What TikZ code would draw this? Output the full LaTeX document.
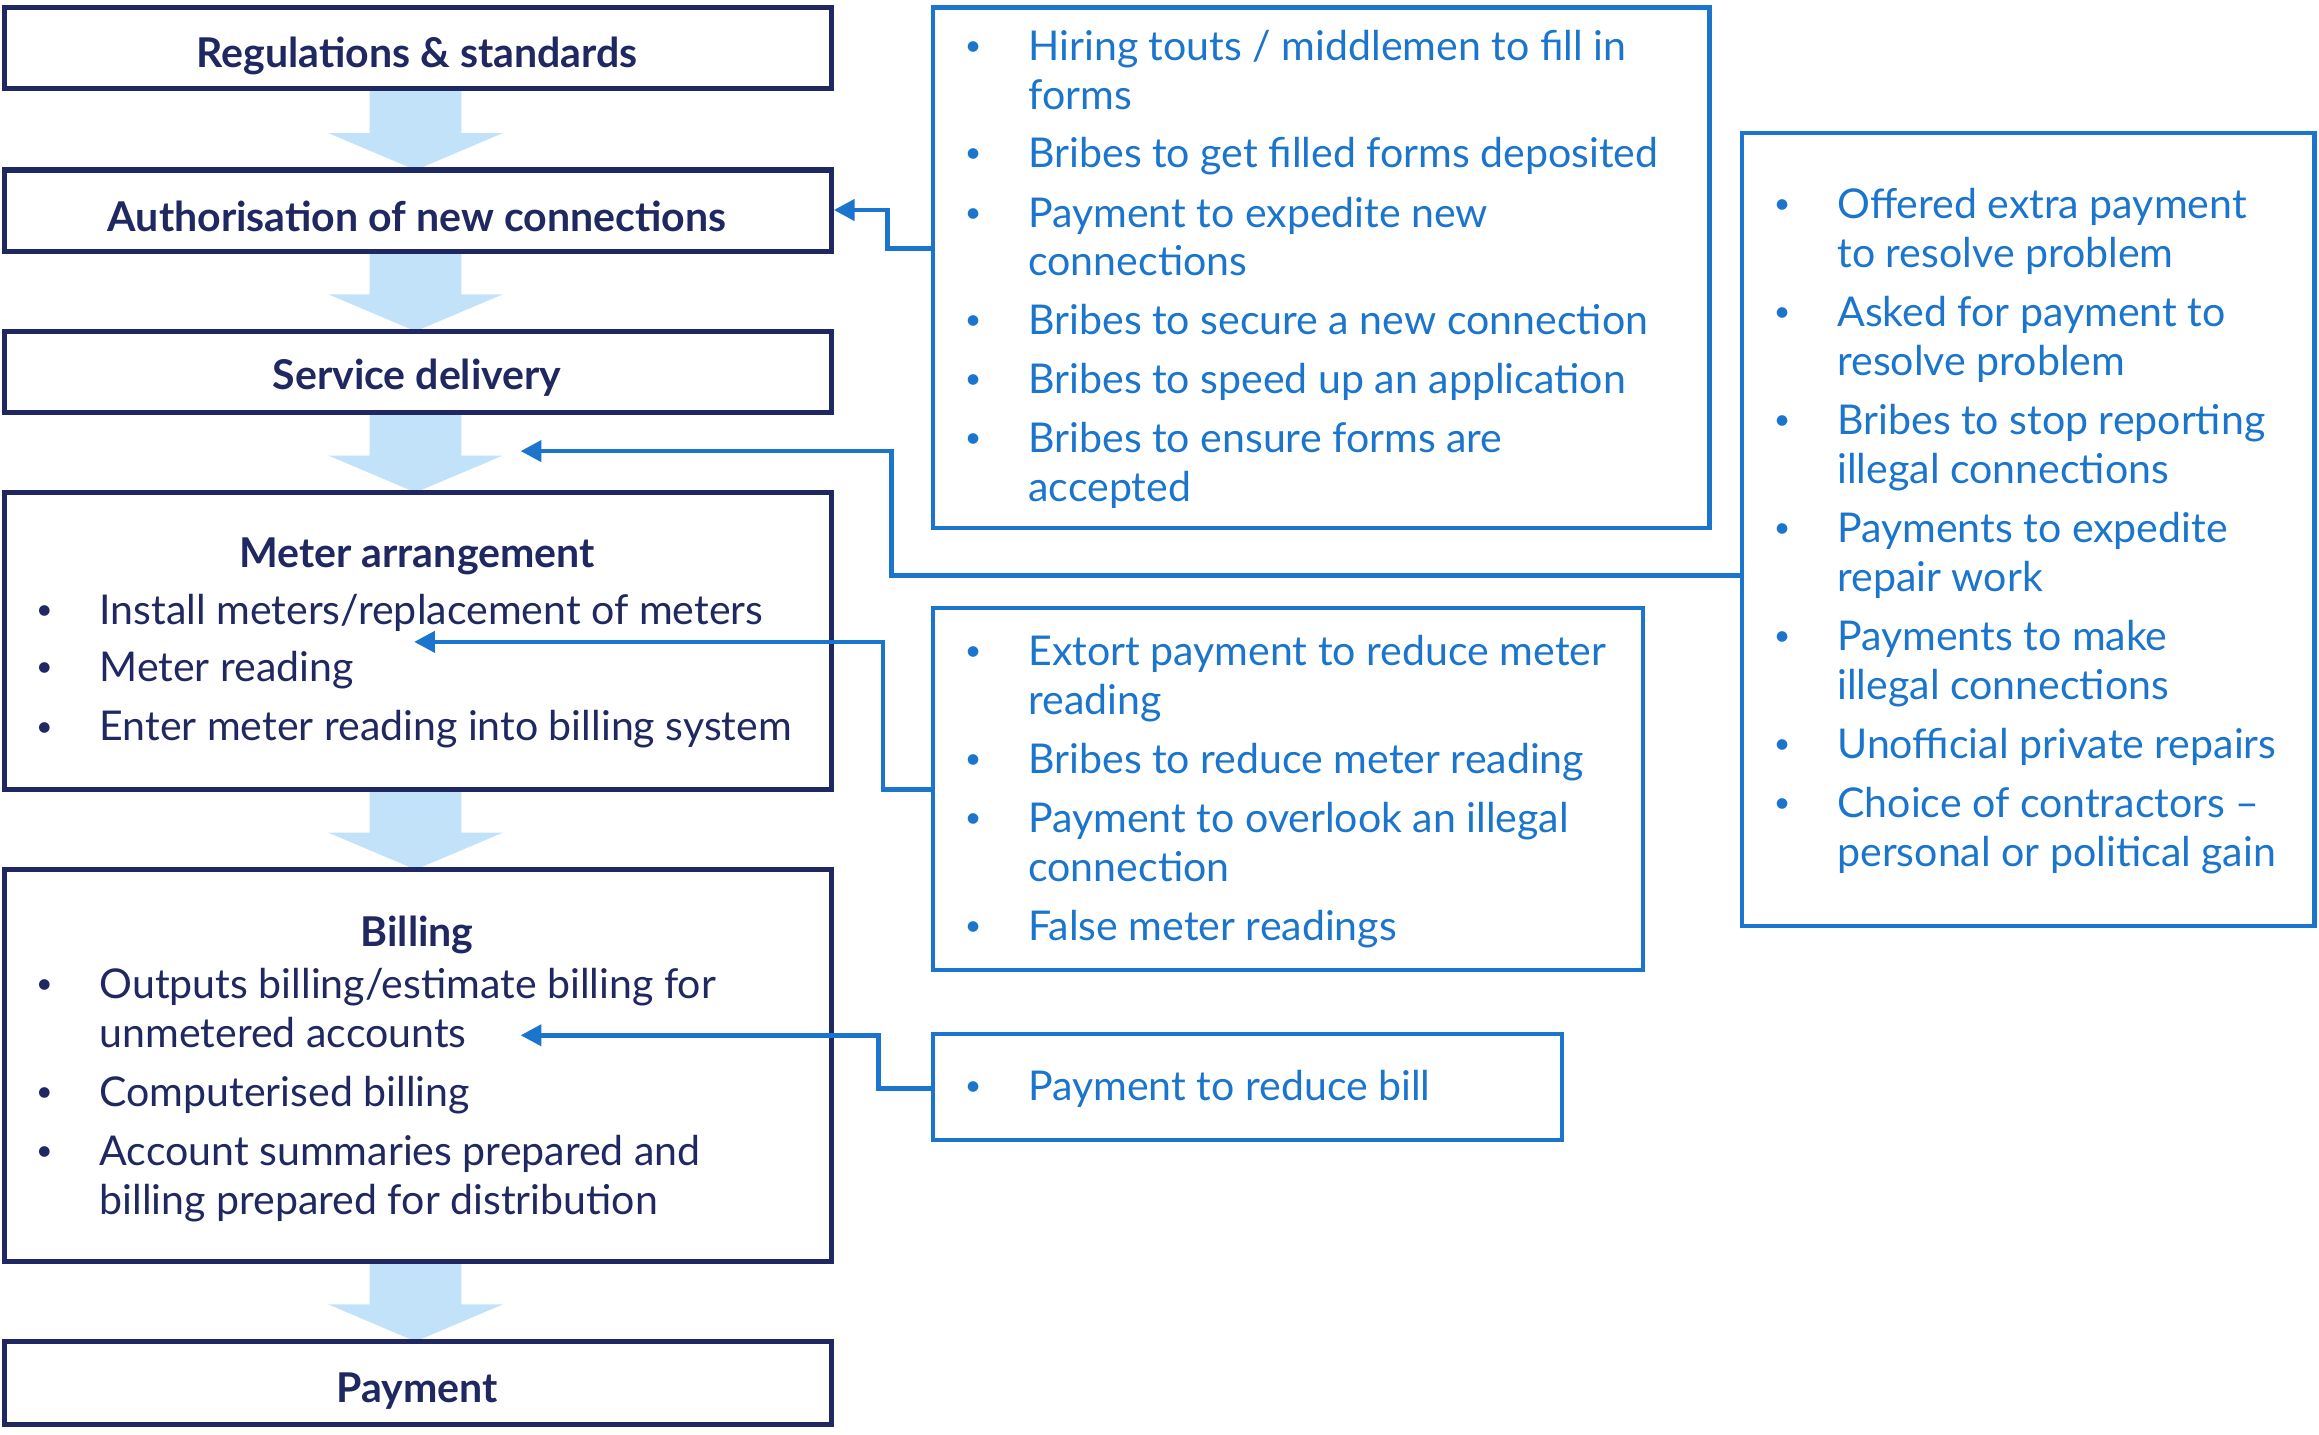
\documentclass[tikz,border=0pt]{standalone}
\usepackage{fontspec}
\setmainfont{Lato}
\usetikzlibrary{arrows.meta}
\definecolor{navy}{HTML}{1F2860}
\definecolor{cblue}{HTML}{1B75CC}
\definecolor{lblue}{HTML}{C2E2FA}
\newcommand{\bx}[6]{\node[#6, minimum width={(#4-#2)*0.02cm}, minimum height={(#5-#3)*0.02cm}] (#1) at ({(#2+#4)/2},{(#3+#5)/2}) {};}
\newcommand{\txl}[4]{\node[#1, anchor=mid west] at (#2,#3) {#4};}
\tikzset{
 lbox/.style={draw=navy, line width=2pt, inner sep=0pt},
 rbox/.style={draw=cblue, line width=1.7pt, inner sep=0pt},
 ltext/.style={text=navy, font=\fontsize{15.8}{18}\selectfont, inner sep=0pt, yshift=-0.07cm},
 rtext/.style={text=cblue, font=\fontsize{15.8}{18}\selectfont, inner sep=0pt, yshift=-0.07cm},
 ttl/.style={text=navy, font=\fontsize{15.8}{18}\selectfont\bfseries, inner sep=0pt, yshift=-0.05cm},
 dot/.style={inner sep=0pt, font=\fontsize{11}{12}\selectfont},
 conn/.style={draw=cblue, line width=1.8pt, -{Triangle[length=8pt,width=8pt]}},
 bigarr/.style={fill=lblue, draw=none}
}
\begin{document}
\begin{tikzpicture}[x=0.02cm,y=-0.02cm]
\useasboundingbox (0,0) rectangle (1568,970);
% big arrows
\foreach \a/\b in {60/115,170/224,279/333,534/588,853/907}{
 \fill[bigarr] (250,\a) -- (312,\a) -- (312,{\b-25}) -- (340,{\b-25}) -- (281,\b) -- (222,{\b-25}) -- (250,{\b-25}) -- cycle;}
% left boxes
\bx{reg}{3}{5}{562}{60}{lbox}
\bx{auth}{3}{115}{562}{170}{lbox}
\bx{serv}{3}{224}{562}{279}{lbox}
\bx{meter}{3}{333}{562}{534}{lbox}
\bx{bill}{3}{588}{562}{853}{lbox}
\bx{pay}{3}{907}{562}{963}{lbox}
\node[ttl] at (282,35) {Regulations \& standards};
\node[ttl] at (282,144) {Authorisation of new connections};
\node[ttl] at (282,253) {Service delivery};
\node[ttl] at (282,374) {Meter arrangement};
\node[ttl] at (282,630) {Billing};
\node[ttl] at (282,938) {Payment};
\foreach \y in {414,453,493,667,740,780}{\node[dot,text=navy] at (30,\y) {•};}
\txl{ltext}{67}{414}{Install meters/replacement of meters}
\txl{ltext}{67}{453}{Meter reading}
\txl{ltext}{67}{493}{Enter meter reading into billing system}
\txl{ltext}{67}{667}{Outputs billing/estimate billing for}
\txl{ltext}{67}{700}{unmetered accounts}
\txl{ltext}{67}{740}{Computerised billing}
\txl{ltext}{67}{780}{Account summaries prepared and}
\txl{ltext}{67}{813}{billing prepared for distribution}
% right boxes
\bx{r1}{631}{5}{1156}{357}{rbox}
\bx{r2}{1178}{90}{1565}{626}{rbox}
\bx{r3}{631}{411}{1111}{656}{rbox}
\bx{r4}{631}{699}{1056}{771}{rbox}
\foreach \y in {33,105,146,218,258,298,442,515,555,628,736}{\node[dot,text=cblue] at (658,\y) {•};}
\foreach \y in {140,213,286,359,432,505,545}{\node[dot,text=cblue] at (1205,\y) {•};}
\txl{rtext}{695}{33}{Hiring touts / middlemen to fill in}
\txl{rtext}{695}{66}{forms}
\txl{rtext}{695}{105}{Bribes to get filled forms deposited}
\txl{rtext}{695}{146}{Payment to expedite new}
\txl{rtext}{695}{178}{connections}
\txl{rtext}{695}{218}{Bribes to secure a new connection}
\txl{rtext}{695}{258}{Bribes to speed up an application}
\txl{rtext}{695}{298}{Bribes to ensure forms are}
\txl{rtext}{695}{331}{accepted}
\txl{rtext}{1242}{140}{Offered extra payment}
\txl{rtext}{1242}{173}{to resolve problem}
\txl{rtext}{1242}{213}{Asked for payment to}
\txl{rtext}{1242}{246}{resolve problem}
\txl{rtext}{1242}{286}{Bribes to stop reporting}
\txl{rtext}{1242}{319}{illegal connections}
\txl{rtext}{1242}{359}{Payments to expedite}
\txl{rtext}{1242}{392}{repair work}
\txl{rtext}{1242}{432}{Payments to make}
\txl{rtext}{1242}{465}{illegal connections}
\txl{rtext}{1242}{505}{Unofficial private repairs}
\txl{rtext}{1242}{545}{Choice of contractors –}
\txl{rtext}{1242}{578}{personal or political gain}
\txl{rtext}{695}{442}{Extort payment to reduce meter}
\txl{rtext}{695}{475}{reading}
\txl{rtext}{695}{515}{Bribes to reduce meter reading}
\txl{rtext}{695}{555}{Payment to overlook an illegal}
\txl{rtext}{695}{588}{connection}
\txl{rtext}{695}{628}{False meter readings}
\txl{rtext}{695}{736}{Payment to reduce bill}
% connectors
\coordinate (t2) at (352,305);
\coordinate (t3) at (280,434);
\coordinate (t4) at (352,700);
\draw[conn] (r1.west |- 0,168) -| (600,142) -- (auth.east |- 0,142);
\draw[conn] (r2.west |- 0,389) -| (603,305) -- (t2);
\draw[conn] (r3.west |- 0,534) -| (597,434) -- (t3);
\draw[conn] (r4.west |- 0,736) -| (594,700) -- (t4);
\end{tikzpicture}
\end{document}
